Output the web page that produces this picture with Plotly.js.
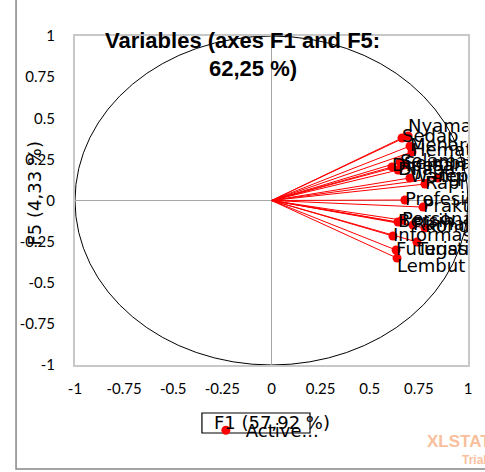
<!DOCTYPE html>
<html>
<head>
<meta charset="utf-8">
<script src="https://cdn.plot.ly/plotly-3.0.1.min.js"></script>
<style>html,body{margin:0;padding:0;background:#fff;}#chart{width:485px;height:472px;}</style>
</head>
<body>
<div id="chart"></div>
<script>
// Variables (active) — coordinates on F1 and F5
const varNames = ["Nyaman","Sedap","Menarik","Hemat","Selamat","Seimbang","Dipesan","Dijaga","Wangi","Tepat","Rapi","Profesional","Praktis","Bersih","Persona","Ramah","Kondisi","Informasi","Tegas","Futuristik","Lembut"];
const f1Values = [0.695,0.664,0.705,0.715,0.654,0.674,0.613,0.644,0.705,0.847,0.781,0.679,0.771,0.644,0.664,0.720,0.781,0.618,0.740,0.634,0.639];
const f5Values = [0.392,0.380,0.331,0.295,0.234,0.216,0.204,0.185,0.137,0.137,0.100,0.003,-0.040,-0.131,-0.119,-0.149,-0.167,-0.216,-0.252,-0.301,-0.350];
const labelPlacement = ["top right","middle right","middle right","middle right","middle right","middle right","middle right","middle right","middle right","middle right","middle right","middle right","middle right","middle right","middle right","middle right","middle right","middle right","bottom right","middle right","bottom right"];
const tickValues = [-1,-0.75,-0.5,-0.25,0,0.25,0.5,0.75,1];
const tickLabels = ["-1","-0.75","-0.5","-0.25","0","0.25","0.5","0.75","1"];
const titleLine1 = "Variables (axes F1 and F5:";
const titleLine2 = "62,25 %)";
const xTitle = "F1 (57,92 %)";
const yTitle = "F5 (4,33 %)";
const seriesName = "Active...";

const lx = [], ly = [];
for (let i = 0; i < varNames.length; i++) {
  lx.push(0, f1Values[i], null);
  ly.push(0, f5Values[i], null);
}
const RED = "#ff0000";
const traces = [
  {x: lx, y: ly, mode: "lines", line: {color: RED, width: 1}, showlegend: false, hoverinfo: "skip", cliponaxis: true},
  {x: f1Values, y: f5Values, mode: "markers", name: seriesName,
   marker: {color: RED, size: 9}, cliponaxis: true, showlegend: true},
  {x: f1Values, y: f5Values, text: varNames, mode: "text", textposition: labelPlacement,
   textfont: {family: "DejaVu Sans", size: 18, color: "#000"}, cliponaxis: true, showlegend: false}
];
const tickFont = {family: "Lato", size: 15, color: "#000"};
const zeroTickAxis = (extra) => Object.assign({
  range: [-1, 1], tickvals: tickValues, showticklabels: false, showgrid: false,
  zeroline: false, showline: false, ticklen: 4, tickwidth: 1.5, tickcolor: "#a6a6a6",
  anchor: "free", position: 0.5, fixedrange: true
}, extra);
const layout = {
  width: 485, height: 472,
  margin: {l: 75, r: 17, t: 36, b: 107},
  paper_bgcolor: "#fff", plot_bgcolor: "#fff",
  showlegend: true,
  legend: {x: 0.333, y: -0.143, xanchor: "left", yanchor: "top", borderwidth: 0,
           bgcolor: "rgba(0,0,0,0)", font: {family: "DejaVu Sans", size: 18, color: "#000"},
           itemwidth: 30, tracegroupgap: 0},
  xaxis: {range: [-1, 1], tickvals: tickValues, ticktext: tickLabels, showgrid: false,
          zeroline: true, zerolinecolor: "#a6a6a6", zerolinewidth: 1.5,
          showline: true, mirror: true, linecolor: "#c8c8c8", linewidth: 2,
          ticks: "", tickfont: tickFont, ticklabelstandoff: 9, fixedrange: true},
  yaxis: {range: [-1, 1], tickvals: tickValues, ticktext: tickLabels, showgrid: false,
          zeroline: true, zerolinecolor: "#a6a6a6", zerolinewidth: 1.5,
          showline: true, mirror: true, linecolor: "#c8c8c8", linewidth: 2,
          ticks: "", tickfont: tickFont, ticklabelstandoff: 15, fixedrange: true},
  xaxis2: zeroTickAxis({overlaying: "x", ticks: "outside", ticklen: 3}),
  xaxis3: zeroTickAxis({overlaying: "x", ticks: "inside", ticklen: 4}),
  yaxis2: zeroTickAxis({overlaying: "y", ticks: "outside", ticklen: 3}),
  yaxis3: zeroTickAxis({overlaying: "y", ticks: "inside", ticklen: 4}),
  shapes: [
    {type: "circle", xref: "x", yref: "y", x0: -1, y0: -1, x1: 1, y1: 1, line: {color: "#000", width: 1}, layer: "below"},
    {type: "rect", xref: "paper", yref: "paper", x0: -0.150, x1: 1.15, y0: -0.316, y1: 1.3, line: {color: "#868686", width: 1.5}},
    {type: "rect", xref: "paper", yref: "paper", x0: 0.323, x1: 0.598, y0: -0.1459, y1: -0.2067, line: {color: "#000", width: 1.2}}
  ],
  annotations: [
    {text: titleLine1, xref: "paper", yref: "paper", x: 0.425, y: 0.985, xanchor: "center", yanchor: "middle", showarrow: false,
     font: {family: "Liberation Sans", size: 22, weight: "bold", color: "#000"}},
    {text: titleLine2, xref: "paper", yref: "paper", x: 0.453, y: 0.900, xanchor: "center", yanchor: "middle", showarrow: false,
     font: {family: "Liberation Sans", size: 22, weight: "bold", color: "#000"}},
    {text: xTitle, xref: "paper", yref: "paper", x: 0.5025, y: -0.176, xanchor: "center", yanchor: "middle", showarrow: false,
     font: {family: "DejaVu Sans", size: 18, color: "#000"}},
    {text: yTitle, xref: "paper", yref: "paper", x: -0.102, y: 0.521, xanchor: "center", yanchor: "middle", showarrow: false, textangle: -90,
     font: {family: "DejaVu Sans", size: 18, color: "#000"}},
    {text: "XLSTAT", xref: "paper", yref: "paper", x: 0.89, y: -0.234, xanchor: "left", yanchor: "middle", showarrow: false,
     font: {family: "Liberation Sans", size: 17, weight: "bold", color: "#f9bf9c"}},
    {text: "Trial", xref: "paper", yref: "paper", x: 0.98, y: -0.289, xanchor: "left", yanchor: "middle", showarrow: false,
     font: {family: "Liberation Sans", size: 12, weight: "bold", color: "#f9bf9c"}}
  ]
};
Plotly.newPlot("chart", traces, layout, {displayModeBar: false, staticPlot: true});
</script>
</body>
</html>
